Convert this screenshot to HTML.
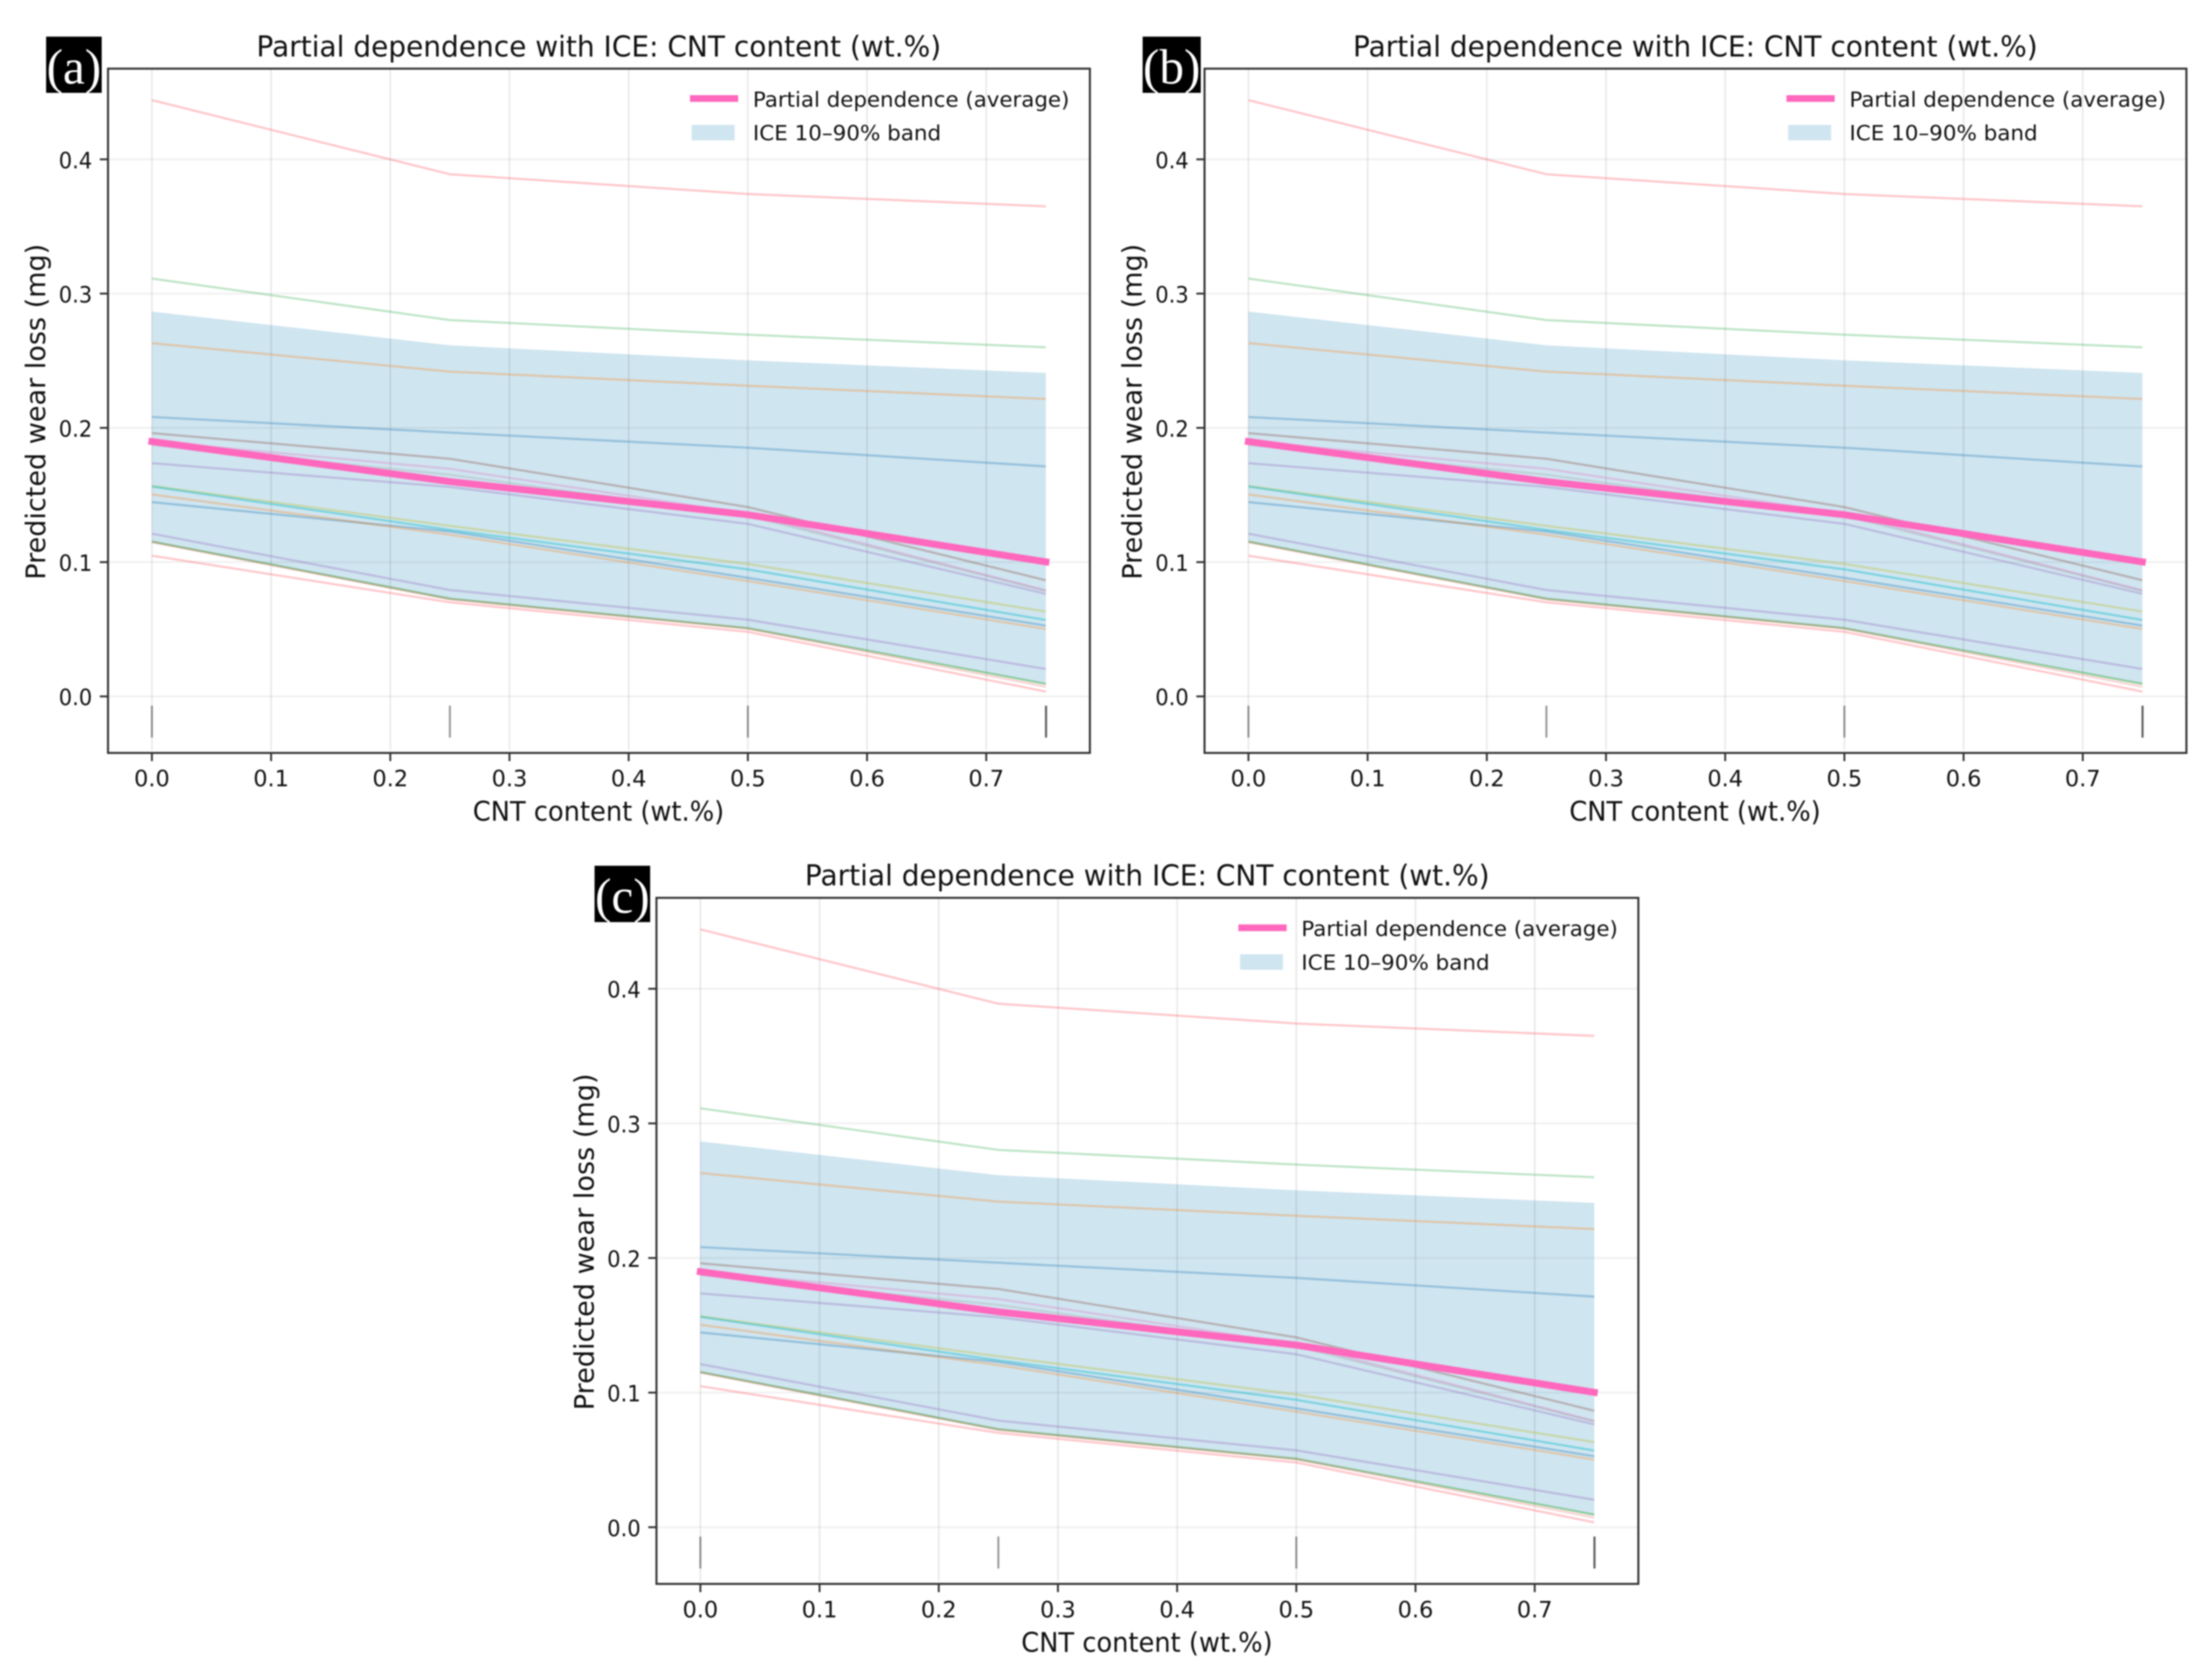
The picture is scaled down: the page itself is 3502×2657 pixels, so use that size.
<!DOCTYPE html>
<html lang="en">
<head>
<meta charset="utf-8">
<title>Partial dependence with ICE: CNT content (wt.%)</title>
<style>
html,body{margin:0;padding:0;background:#fff;}
body{width:3502px;height:2657px;overflow:hidden;}
svg{display:block;filter:blur(1.1px);}
text{font-family:"DejaVu Sans","Liberation Sans",sans-serif;fill:#111;}
</style>
</head>
<body>
<svg id="figure" xmlns="http://www.w3.org/2000/svg" width="3502" height="2657" viewBox="0 0 3502 2657"></svg>
<script>
// Chart data
const gridValues = [0, 0.25, 0.5, 0.75];
const xTickValues = [0, 0.1, 0.2, 0.3, 0.4, 0.5, 0.6, 0.7];
const xTickLabels = ['0.0', '0.1', '0.2', '0.3', '0.4', '0.5', '0.6', '0.7'];
const yTickValues = [0, 0.1, 0.2, 0.3, 0.4];
const yTickLabels = ['0.0', '0.1', '0.2', '0.3', '0.4'];
const rugValues = [0, 0.25, 0.5, 0.75, 0.7503];

const pdAverage = [0.1898, 0.1600, 0.1353, 0.1002];
const bandUpper = [0.2866, 0.2615, 0.2503, 0.2409];
const bandLower = [0.1150, 0.0725, 0.0508, 0.0090];

const iceRedTop = [0.4441, 0.3889, 0.3742, 0.3650];
const iceGreenTop = [0.3112, 0.2803, 0.2694, 0.2600];
const iceOrangeTop = [0.2631, 0.2419, 0.2314, 0.2215];
const iceBlueTop = [0.2081, 0.1965, 0.1852, 0.1713];
const iceBrown = [0.1961, 0.1770, 0.1410, 0.0865];
const icePink = [0.1900, 0.1695, 0.1360, 0.0790];
const iceGray = [0.1874, 0.1651, 0.1345, 0.0785];
const icePurpleMid = [0.1737, 0.1560, 0.1285, 0.0764];
const iceOlive = [0.1567, 0.1270, 0.0986, 0.0632];
const iceCyan = [0.1563, 0.1240, 0.0946, 0.0569];
const iceBlueLow = [0.1447, 0.1228, 0.0883, 0.0527];
const iceOrangeLow = [0.1504, 0.1204, 0.0859, 0.0502];
const icePurpleLow = [0.1212, 0.0792, 0.0571, 0.0204];
const iceGreenLow = [0.1153, 0.0728, 0.0508, 0.0093];
const iceTanLow = [0.1148, 0.0722, 0.0504, 0.0072];
const iceRedLow = [0.1048, 0.0701, 0.0481, 0.0036];

const iceSeries = [iceRedTop, iceGreenTop, iceOrangeTop, iceBlueTop, iceBrown, icePink, iceGray, icePurpleMid, iceOlive, iceCyan, iceBlueLow, iceOrangeLow, icePurpleLow, iceGreenLow, iceTanLow, iceRedLow];
const iceColors = ['#ff5a66', '#2ca84a', '#ff7f0e', '#1f77b4', '#8c564b', '#e377c2', '#7f7f7f', '#9467bd', '#bcbd22', '#17becf', '#1f77b4', '#ff7f0e', '#9467bd', '#2ca02c', '#d62728', '#ff5a66'];
const iceOpacities = [0.34, 0.3, 0.3, 0.32, 0.36, 0.32, 0.2, 0.33, 0.34, 0.45, 0.34, 0.3, 0.33, 0.42, 0.2, 0.34];

const panelLetters = ['(a)', '(b)', '(c)'];
const panelNames = ['panel-a', 'panel-b', 'panel-c'];

// Axis functions
function xScale(v) { return 240.5 + v * 1887; }
function yScale(v) { return 1102.7 - v * 2126; }

const NS = 'http://www.w3.org/2000/svg';
function make(tag, attrs, parent, content) {
  const node = document.createElementNS(NS, tag);
  for (const key in attrs) { node.setAttribute(key, attrs[key]); }
  if (content !== undefined) { node.textContent = content; }
  parent.appendChild(node);
  return node;
}
function pointsOf(values) {
  return values.map(function (v, i) { return xScale(gridValues[i]) + ',' + yScale(v); }).join(' ');
}

function drawPanel(svg, index, placement, boxWidth, letterX) {
  const g = make('g', { transform: placement }, svg);
  
  

  const L = 171, R = 1725.5, T = 108.7, B = 1192.2;

  // ICE band
  const upperPts = bandUpper.map(function (v, i) { return xScale(gridValues[i]) + ',' + yScale(v); });
  const lowerPts = bandLower.map(function (v, i) { return xScale(gridValues[i]) + ',' + yScale(v); }).reverse();
  const band = make('polygon', { points: upperPts.concat(lowerPts).join(' '), fill: '#3793c0', 'fill-opacity': 0.24 }, g);
  
  

  // gridlines
  yTickValues.forEach(function (v) {
    const line = make('line', { x1: L, x2: R, y1: yScale(v), y2: yScale(v), stroke: '#000', 'stroke-opacity': 0.055, 'stroke-width': 3 }, g);
    
    
  });
  xTickValues.forEach(function (v) {
    const line = make('line', { x1: xScale(v), x2: xScale(v), y1: T, y2: B - 4, stroke: '#000', 'stroke-opacity': 0.085, 'stroke-width': 2.6 }, g);
    
    
  });

  // ICE lines
  iceSeries.forEach(function (values, i) {
    const line = make('polyline', { points: pointsOf(values), fill: 'none', stroke: iceColors[i], 'stroke-opacity': iceOpacities[i], 'stroke-width': 3.4, 'stroke-linejoin': 'round' }, g);
    
    
  });

  // Partial dependence line
  const pd = make('polyline', { points: pointsOf(pdAverage), fill: 'none', stroke: '#ff68bd', 'stroke-width': 11, 'stroke-linecap': 'square', 'stroke-linejoin': 'round' }, g);
  
  

  // Rug
  rugValues.forEach(function (v) {
    const rug = make('line', { x1: xScale(v), x2: xScale(v), y1: 1117.4, y2: 1167.9, stroke: '#000', 'stroke-opacity': 0.42, 'stroke-width': 3 }, g);
    
    
  });

  // Spines
  const frame = make('rect', { x: L, y: T, width: R - L, height: B - T, fill: 'none', stroke: '#333', 'stroke-width': 3.2 }, g);
  
  

  // X ticks
  xTickValues.forEach(function (v, i) {
    const tick = make('line', { x1: xScale(v), x2: xScale(v), y1: B, y2: B + 13, stroke: '#333', 'stroke-width': 3 }, g);
    
    
    const label = make('text', { x: xScale(v), y: 1245, 'text-anchor': 'middle', 'font-size': 35.5 }, g, xTickLabels[i]);
    
    
  });

  // Y ticks
  yTickValues.forEach(function (v, i) {
    const tick = make('line', { x1: L - 13, x2: L, y1: yScale(v), y2: yScale(v), stroke: '#333', 'stroke-width': 3 }, g);
    
    
    const label = make('text', { x: 146, y: yScale(v) + 14, 'text-anchor': 'end', 'font-size': 35.5, textLength: 53, lengthAdjust: 'spacingAndGlyphs' }, g, yTickLabels[i]);
    
    
  });

  // Title and axis titles
  const title = make('text', { x: 948, y: 89.3, 'text-anchor': 'middle', 'font-size': 45, textLength: 1084, lengthAdjust: 'spacingAndGlyphs' }, g, 'Partial dependence with ICE: CNT content (wt.%)');
  
  

  const xTitle = make('text', { x: 947.5, y: 1299.6, 'text-anchor': 'middle', 'font-size': 42.5, textLength: 398, lengthAdjust: 'spacingAndGlyphs' }, g, 'CNT content (wt.%)');
  
  

  const yTitle = make('text', { x: 71.5, y: 652, transform: 'rotate(-90 71.5 652)', 'text-anchor': 'middle', 'font-size': 43, textLength: 532, lengthAdjust: 'spacingAndGlyphs' }, g, 'Predicted wear loss (mg)');
  
  

  // Legend
  const legend = make('g', {}, g);
  
  
  const swatchLine = make('rect', { x: 1092.3, y: 150.7, width: 76.4, height: 10.6, fill: '#ff68bd' }, legend);
  
  
  const labelLine = make('text', { x: 1192, y: 168.8, 'font-size': 33, textLength: 501, lengthAdjust: 'spacingAndGlyphs' }, legend, 'Partial dependence (average)');
  
  
  const swatchBand = make('rect', { x: 1095, y: 197.8, width: 68, height: 24.5, fill: '#3793c0', 'fill-opacity': 0.24 }, legend);
  
  
  const labelBand = make('text', { x: 1192, y: 222, 'font-size': 33, textLength: 298, lengthAdjust: 'spacingAndGlyphs' }, legend, 'ICE 10\u201390% band');
  
  

  // Panel letter badge
  const badge = make('rect', { x: 73, y: 58, width: boxWidth, height: 89, fill: '#000' }, g);
  
  
  const letter = make('text', { x: letterX, y: 132, 'text-anchor': 'middle', 'font-size': 78 }, g, panelLetters[index]);
  letter.setAttribute('style', 'font-family:"Liberation Serif",serif;fill:#fff;');
  
  
}

const figure = document.getElementById('figure');
drawPanel(figure, 0, 'translate(0 0)', 88, 117);
drawPanel(figure, 1, 'translate(1736 0)', 92, 119);
drawPanel(figure, 2, 'translate(868.3 1312.7) scale(1 1.00259)', 88, 117);
</script>
</body>
</html>
